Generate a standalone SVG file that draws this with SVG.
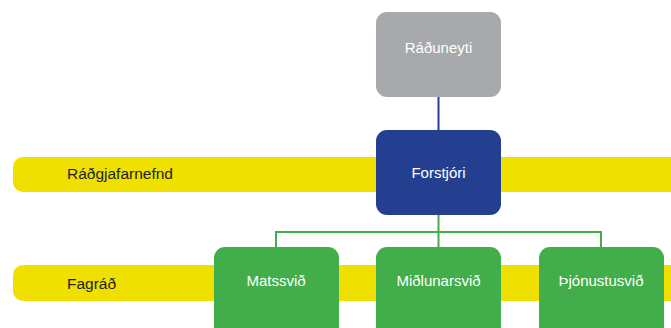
<svg xmlns="http://www.w3.org/2000/svg" width="671" height="328" viewBox="0 0 671 328">
<style>
.band{fill:#efe000}
.btxt{font-family:"Liberation Sans",Arial,sans-serif;font-size:15.5px;fill:#231f20}
.ntxt{font-family:"Liberation Sans",Arial,sans-serif;font-size:15px;fill:#ffffff;text-anchor:middle}
.green{fill:#41ae4b}
</style>
<rect width="671" height="328" fill="#ffffff"/>
<g id="band-radgjafarnefnd">
<rect class="band" x="13" y="157" width="680" height="35" rx="10"/>
<text class="btxt" x="67" y="179">Ráðgjafarnefnd</text>
</g>
<g id="band-fagrad">
<rect class="band" x="13" y="265" width="680" height="36" rx="10"/>
<text class="btxt" x="67" y="289">Fagráð</text>
</g>
<g id="connectors" fill="none">
<line x1="438.5" y1="96" x2="438.5" y2="131" stroke="#243f8f" stroke-width="2"/>
<path d="M438.5 214 V232 M276 248 V232 H601 V248 M438.5 232 V248" stroke="#41ae4b" stroke-width="2"/>
</g>
<g id="raduneyti">
<rect x="376" y="12" width="125" height="85" rx="11" fill="#a7a9ac"/>
<text class="ntxt" x="438.5" y="53">Ráðuneyti</text>
</g>
<g id="forstjori">
<rect x="376" y="130" width="125" height="85" rx="11" fill="#243f8f"/>
<text class="ntxt" x="438.5" y="178">Forstjóri</text>
</g>
<g id="matssvid">
<rect class="green" x="214" y="247" width="125" height="95" rx="11"/>
<text class="ntxt" x="276" y="286">Matssvið</text>
</g>
<g id="midlunarsvid">
<rect class="green" x="376" y="247" width="125" height="95" rx="11"/>
<text class="ntxt" x="438.5" y="286">Miðlunarsvið</text>
</g>
<g id="thjonustusvid">
<rect class="green" x="539" y="247" width="125" height="95" rx="11"/>
<text class="ntxt" x="601" y="286">Þjónustusvið</text>
</g>
</svg>
